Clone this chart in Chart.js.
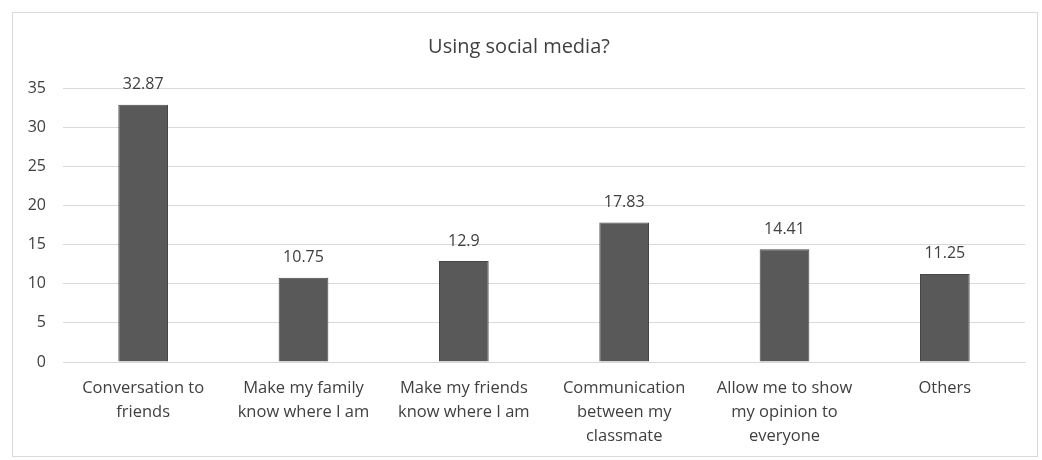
<!DOCTYPE html>
<html><head><meta charset="utf-8">
<script src="https://cdn.jsdelivr.net/npm/chart.js@4/dist/chart.umd.min.js"></script>
<style>html,body{margin:0;padding:0;background:#fff}#wrap{width:1042px;height:460px;position:relative}</style>
</head><body><div id="wrap"><canvas id="c" width="1042" height="460"></canvas></div>
<script>
const categories = [
  ["Conversation to","friends"],
  ["Make my family","know where I am"],
  ["Make my friends","know where I am"],
  ["Communication","between my","classmate"],
  ["Allow me to show","my opinion to","everyone"],
  ["Others"]
];
const values = [32.87, 10.75, 12.9, 17.83, 14.41, 11.25];
const valueLabels = ["32.87", "10.75", "12.9", "17.83", "14.41", "11.25"];
const yTicks = [0, 5, 10, 15, 20, 25, 30, 35];
const chartTitle = "Using social media?";

const FONT = "'Open Sans', sans-serif";

const framePlugin = {
  id: 'frame',
  beforeDraw(chart) {
    const ctx = chart.ctx;
    ctx.save();
    ctx.fillStyle = '#fff';
    ctx.fillRect(0, 0, chart.width, chart.height);
    ctx.strokeStyle = '#d9d9d9';
    ctx.lineWidth = 1;
    ctx.strokeRect(12.5, 12.5, 1025, 444);
    ctx.restore();
  }
};
const labelPlugin = {
  id: 'vlabels',
  afterDatasetsDraw(chart) {
    const ctx = chart.ctx;
    const meta = chart.getDatasetMeta(0);
    ctx.save();
    ctx.font = "16px " + FONT;
    ctx.fillStyle = '#404040';
    ctx.textAlign = 'center';
    ctx.textBaseline = 'middle';
    meta.data.forEach((bar, i) => {
      ctx.fillText(valueLabels[i], bar.x, bar.y - 20);
    });
    ctx.restore();
  }
};

new Chart(document.getElementById('c'), {
  type: 'bar',
  data: {
    labels: categories,
    datasets: [{
      data: values,
      backgroundColor: '#595959',
      borderColor: '#474747',
      borderWidth: 1,
      categoryPercentage: 1,
      barPercentage: 0.31
    }]
  },
  options: {
    responsive: false,
    animation: false,
    layout: { padding: { left: 13, right: 17, top: 0, bottom: 0 } },
    plugins: {
      legend: { display: false },
      tooltip: { enabled: false },
      title: {
        display: true,
        text: chartTitle,
        color: '#404040',
        font: { family: FONT, size: 20, weight: 'normal' },
        padding: { top: 35, bottom: 29 }
      }
    },
    scales: {
      x: {
        grid: { display: false },
        border: { color: '#d9d9d9' },
        ticks: {
          color: '#404040',
          font: { family: FONT, size: 16.5, lineHeight: 1.45 },
          maxRotation: 0,
          autoSkip: false,
          padding: 6
        },
        afterFit(s) { s.height = 98; }
      },
      y: {
        min: 0, max: 35,
        afterBuildTicks(s) { s.ticks = yTicks.map(v => ({ value: v })); },
        grid: { color: '#d9d9d9', drawTicks: false },
        border: { display: false },
        ticks: {
          color: '#404040',
          font: { family: FONT, size: 16 },
          padding: 17
        },
        afterFit(s) { s.width = 50; }
      }
    }
  },
  plugins: [framePlugin, labelPlugin]
});
</script></body></html>
